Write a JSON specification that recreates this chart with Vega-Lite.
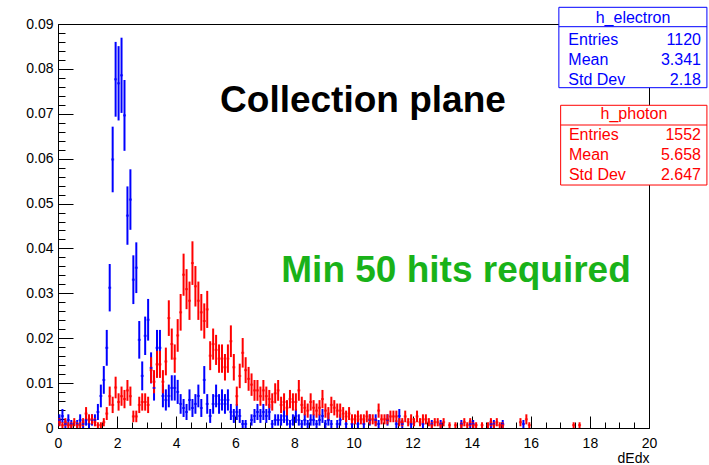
{
  "$schema": "https://vega.github.io/schema/vega-lite/v6.json",
  "width": 591,
  "height": 404,
  "autosize": {"type": "none"},
  "padding": {"left": 58, "top": 24, "right": 60, "bottom": 37},
  "background": "white",
  "config": {"view": {"stroke": "black", "strokeWidth": 1}, "font": "Liberation Sans"},
  "datasets": {
    "h": [
      {"s":"e","x":0.05,"y":0.00179,"err":0.00126},
      {"s":"e","x":0.15,"y":0.00268,"err":0.00155},
      {"s":"e","x":0.25,"y":0.00089,"err":0.00089},
      {"s":"e","x":0.35,"y":0.00179,"err":0.00126},
      {"s":"e","x":0.45,"y":0.00089,"err":0.00089},
      {"s":"e","x":0.65,"y":0.00089,"err":0.00089},
      {"s":"e","x":0.75,"y":0.00179,"err":0.00126},
      {"s":"e","x":0.85,"y":0.00089,"err":0.00089},
      {"s":"e","x":0.95,"y":0.00179,"err":0.00126},
      {"s":"e","x":1.05,"y":0.00089,"err":0.00089},
      {"s":"e","x":1.15,"y":0.00179,"err":0.00126},
      {"s":"e","x":1.25,"y":0.00179,"err":0.00126},
      {"s":"e","x":1.35,"y":0.00357,"err":0.00179},
      {"s":"e","x":1.45,"y":0.00714,"err":0.00253},
      {"s":"e","x":1.55,"y":0.01071,"err":0.00309},
      {"s":"e","x":1.65,"y":0.01786,"err":0.00399},
      {"s":"e","x":1.75,"y":0.03125,"err":0.00528},
      {"s":"e","x":1.85,"y":0.05982,"err":0.00731},
      {"s":"e","x":1.95,"y":0.07768,"err":0.00833},
      {"s":"e","x":2.05,"y":0.07679,"err":0.00828},
      {"s":"e","x":2.15,"y":0.07857,"err":0.00838},
      {"s":"e","x":2.25,"y":0.06964,"err":0.00789},
      {"s":"e","x":2.35,"y":0.04732,"err":0.0065},
      {"s":"e","x":2.45,"y":0.05089,"err":0.00674},
      {"s":"e","x":2.55,"y":0.03304,"err":0.00543},
      {"s":"e","x":2.65,"y":0.03571,"err":0.00565},
      {"s":"e","x":2.75,"y":0.01964,"err":0.00419},
      {"s":"e","x":2.85,"y":0.01161,"err":0.00322},
      {"s":"e","x":2.95,"y":0.02054,"err":0.00428},
      {"s":"e","x":3.05,"y":0.02411,"err":0.00464},
      {"s":"e","x":3.15,"y":0.01339,"err":0.00346},
      {"s":"e","x":3.25,"y":0.00893,"err":0.00282},
      {"s":"e","x":3.35,"y":0.01786,"err":0.00399},
      {"s":"e","x":3.45,"y":0.01786,"err":0.00399},
      {"s":"e","x":3.55,"y":0.00714,"err":0.00253},
      {"s":"e","x":3.65,"y":0.00625,"err":0.00236},
      {"s":"e","x":3.75,"y":0.00714,"err":0.00253},
      {"s":"e","x":3.85,"y":0.00893,"err":0.00282},
      {"s":"e","x":3.95,"y":0.00893,"err":0.00282},
      {"s":"e","x":4.05,"y":0.00804,"err":0.00268},
      {"s":"e","x":4.15,"y":0.00536,"err":0.00219},
      {"s":"e","x":4.25,"y":0.00446,"err":0.002},
      {"s":"e","x":4.35,"y":0.00357,"err":0.00179},
      {"s":"e","x":4.45,"y":0.00625,"err":0.00236},
      {"s":"e","x":4.55,"y":0.00446,"err":0.002},
      {"s":"e","x":4.65,"y":0.00536,"err":0.00219},
      {"s":"e","x":4.75,"y":0.00714,"err":0.00253},
      {"s":"e","x":4.85,"y":0.00446,"err":0.002},
      {"s":"e","x":4.95,"y":0.01071,"err":0.00309},
      {"s":"e","x":5.05,"y":0.00536,"err":0.00219},
      {"s":"e","x":5.15,"y":0.00268,"err":0.00155},
      {"s":"e","x":5.25,"y":0.00536,"err":0.00219},
      {"s":"e","x":5.35,"y":0.00714,"err":0.00253},
      {"s":"e","x":5.45,"y":0.00536,"err":0.00219},
      {"s":"e","x":5.55,"y":0.00625,"err":0.00236},
      {"s":"e","x":5.65,"y":0.00536,"err":0.00219},
      {"s":"e","x":5.75,"y":0.00625,"err":0.00236},
      {"s":"e","x":5.85,"y":0.00357,"err":0.00179},
      {"s":"e","x":5.95,"y":0.00268,"err":0.00155},
      {"s":"e","x":6.05,"y":0.00357,"err":0.00179},
      {"s":"e","x":6.15,"y":0.00268,"err":0.00155},
      {"s":"e","x":6.25,"y":0.00089,"err":0.00089},
      {"s":"e","x":6.35,"y":0.00089,"err":0.00089},
      {"s":"e","x":6.55,"y":0.00179,"err":0.00126},
      {"s":"e","x":6.65,"y":0.00268,"err":0.00155},
      {"s":"e","x":6.75,"y":0.00357,"err":0.00179},
      {"s":"e","x":6.85,"y":0.00268,"err":0.00155},
      {"s":"e","x":6.95,"y":0.00357,"err":0.00179},
      {"s":"e","x":7.05,"y":0.00268,"err":0.00155},
      {"s":"e","x":7.15,"y":0.00357,"err":0.00179},
      {"s":"e","x":7.25,"y":0.00089,"err":0.00089},
      {"s":"e","x":7.35,"y":0.00179,"err":0.00126},
      {"s":"e","x":7.45,"y":0.00179,"err":0.00126},
      {"s":"e","x":7.55,"y":0.00179,"err":0.00126},
      {"s":"e","x":7.65,"y":0.00268,"err":0.00155},
      {"s":"e","x":7.75,"y":0.00179,"err":0.00126},
      {"s":"e","x":7.85,"y":0.00089,"err":0.00089},
      {"s":"e","x":7.95,"y":0.00179,"err":0.00126},
      {"s":"e","x":8.05,"y":0.00268,"err":0.00155},
      {"s":"e","x":8.15,"y":0.00179,"err":0.00126},
      {"s":"e","x":8.25,"y":0.00089,"err":0.00089},
      {"s":"e","x":8.35,"y":0.00179,"err":0.00126},
      {"s":"e","x":8.45,"y":0.00089,"err":0.00089},
      {"s":"e","x":8.55,"y":0.00179,"err":0.00126},
      {"s":"e","x":8.65,"y":0.00179,"err":0.00126},
      {"s":"e","x":8.75,"y":0.00089,"err":0.00089},
      {"s":"e","x":8.85,"y":0.00179,"err":0.00126},
      {"s":"e","x":8.95,"y":0.00268,"err":0.00155},
      {"s":"e","x":9.05,"y":0.00089,"err":0.00089},
      {"s":"e","x":9.15,"y":0.00179,"err":0.00126},
      {"s":"e","x":9.25,"y":0.00089,"err":0.00089},
      {"s":"e","x":9.45,"y":0.00089,"err":0.00089},
      {"s":"e","x":9.55,"y":0.00179,"err":0.00126},
      {"s":"e","x":9.75,"y":0.00089,"err":0.00089},
      {"s":"e","x":9.95,"y":0.00089,"err":0.00089},
      {"s":"e","x":10.15,"y":0.00089,"err":0.00089},
      {"s":"e","x":10.35,"y":0.00089,"err":0.00089},
      {"s":"e","x":10.55,"y":0.00179,"err":0.00126},
      {"s":"e","x":10.75,"y":0.00179,"err":0.00126},
      {"s":"e","x":10.85,"y":0.00089,"err":0.00089},
      {"s":"e","x":11.15,"y":0.00179,"err":0.00126},
      {"s":"e","x":11.45,"y":0.00089,"err":0.00089},
      {"s":"e","x":11.55,"y":0.00268,"err":0.00155},
      {"s":"e","x":11.65,"y":0.00089,"err":0.00089},
      {"s":"e","x":11.95,"y":0.00089,"err":0.00089},
      {"s":"e","x":12.35,"y":0.00089,"err":0.00089},
      {"s":"e","x":12.65,"y":0.00089,"err":0.00089},
      {"s":"e","x":12.95,"y":0.00089,"err":0.00089},
      {"s":"e","x":13.65,"y":0.00089,"err":0.00089},
      {"s":"e","x":13.95,"y":0.00089,"err":0.00089},
      {"s":"e","x":14.05,"y":0.00089,"err":0.00089},
      {"s":"e","x":14.65,"y":0.00089,"err":0.00089},
      {"s":"e","x":14.75,"y":0.00089,"err":0.00089},
      {"s":"e","x":15.05,"y":0.00089,"err":0.00089},
      {"s":"e","x":15.75,"y":0.00089,"err":0.00089},
      {"s":"p","x":0.05,"y":0.00129,"err":0.00091},
      {"s":"p","x":0.15,"y":0.00064,"err":0.00064},
      {"s":"p","x":0.25,"y":0.00129,"err":0.00091},
      {"s":"p","x":0.35,"y":0.00064,"err":0.00064},
      {"s":"p","x":0.45,"y":0.00064,"err":0.00064},
      {"s":"p","x":0.55,"y":0.00129,"err":0.00091},
      {"s":"p","x":0.65,"y":0.00064,"err":0.00064},
      {"s":"p","x":0.75,"y":0.00064,"err":0.00064},
      {"s":"p","x":0.85,"y":0.00129,"err":0.00091},
      {"s":"p","x":0.95,"y":0.00322,"err":0.00144},
      {"s":"p","x":1.05,"y":0.00193,"err":0.00112},
      {"s":"p","x":1.15,"y":0.00193,"err":0.00112},
      {"s":"p","x":1.25,"y":0.00129,"err":0.00091},
      {"s":"p","x":1.35,"y":0.00064,"err":0.00064},
      {"s":"p","x":1.45,"y":0.00064,"err":0.00064},
      {"s":"p","x":1.55,"y":0.00129,"err":0.00091},
      {"s":"p","x":1.65,"y":0.00322,"err":0.00144},
      {"s":"p","x":1.75,"y":0.00709,"err":0.00214},
      {"s":"p","x":1.85,"y":0.00515,"err":0.00182},
      {"s":"p","x":1.95,"y":0.00902,"err":0.00241},
      {"s":"p","x":2.05,"y":0.0058,"err":0.00193},
      {"s":"p","x":2.15,"y":0.00709,"err":0.00214},
      {"s":"p","x":2.25,"y":0.00644,"err":0.00204},
      {"s":"p","x":2.35,"y":0.00838,"err":0.00232},
      {"s":"p","x":2.45,"y":0.00709,"err":0.00214},
      {"s":"p","x":2.55,"y":0.00258,"err":0.00129},
      {"s":"p","x":2.65,"y":0.00258,"err":0.00129},
      {"s":"p","x":2.75,"y":0.00515,"err":0.00182},
      {"s":"p","x":2.85,"y":0.0058,"err":0.00193},
      {"s":"p","x":2.95,"y":0.0058,"err":0.00193},
      {"s":"p","x":3.05,"y":0.00515,"err":0.00182},
      {"s":"p","x":3.15,"y":0.01289,"err":0.00288},
      {"s":"p","x":3.25,"y":0.01031,"err":0.00258},
      {"s":"p","x":3.35,"y":0.01418,"err":0.00302},
      {"s":"p","x":3.45,"y":0.01418,"err":0.00302},
      {"s":"p","x":3.55,"y":0.01031,"err":0.00258},
      {"s":"p","x":3.65,"y":0.01482,"err":0.00309},
      {"s":"p","x":3.75,"y":0.02448,"err":0.00397},
      {"s":"p","x":3.85,"y":0.01869,"err":0.00347},
      {"s":"p","x":3.95,"y":0.01546,"err":0.00316},
      {"s":"p","x":4.05,"y":0.02062,"err":0.00364},
      {"s":"p","x":4.15,"y":0.02577,"err":0.00408},
      {"s":"p","x":4.25,"y":0.03415,"err":0.00469},
      {"s":"p","x":4.35,"y":0.03093,"err":0.00446},
      {"s":"p","x":4.45,"y":0.02835,"err":0.00427},
      {"s":"p","x":4.55,"y":0.03673,"err":0.00486},
      {"s":"p","x":4.65,"y":0.03157,"err":0.00451},
      {"s":"p","x":4.75,"y":0.02835,"err":0.00427},
      {"s":"p","x":4.85,"y":0.02577,"err":0.00408},
      {"s":"p","x":4.95,"y":0.02384,"err":0.00392},
      {"s":"p","x":5.05,"y":0.02642,"err":0.00413},
      {"s":"p","x":5.15,"y":0.01611,"err":0.00322},
      {"s":"p","x":5.25,"y":0.01869,"err":0.00347},
      {"s":"p","x":5.35,"y":0.0174,"err":0.00335},
      {"s":"p","x":5.45,"y":0.01546,"err":0.00316},
      {"s":"p","x":5.55,"y":0.01546,"err":0.00316},
      {"s":"p","x":5.65,"y":0.01353,"err":0.00295},
      {"s":"p","x":5.75,"y":0.01546,"err":0.00316},
      {"s":"p","x":5.85,"y":0.01933,"err":0.00353},
      {"s":"p","x":5.95,"y":0.01353,"err":0.00295},
      {"s":"p","x":6.05,"y":0.00709,"err":0.00214},
      {"s":"p","x":6.15,"y":0.0116,"err":0.00273},
      {"s":"p","x":6.25,"y":0.01675,"err":0.00329},
      {"s":"p","x":6.35,"y":0.01289,"err":0.00288},
      {"s":"p","x":6.45,"y":0.01095,"err":0.00266},
      {"s":"p","x":6.55,"y":0.00966,"err":0.0025},
      {"s":"p","x":6.65,"y":0.00838,"err":0.00232},
      {"s":"p","x":6.75,"y":0.00838,"err":0.00232},
      {"s":"p","x":6.85,"y":0.00709,"err":0.00214},
      {"s":"p","x":6.95,"y":0.00838,"err":0.00232},
      {"s":"p","x":7.05,"y":0.00709,"err":0.00214},
      {"s":"p","x":7.15,"y":0.00644,"err":0.00204},
      {"s":"p","x":7.25,"y":0.0058,"err":0.00193},
      {"s":"p","x":7.35,"y":0.00773,"err":0.00223},
      {"s":"p","x":7.45,"y":0.00838,"err":0.00232},
      {"s":"p","x":7.55,"y":0.00515,"err":0.00182},
      {"s":"p","x":7.65,"y":0.0058,"err":0.00193},
      {"s":"p","x":7.75,"y":0.00451,"err":0.0017},
      {"s":"p","x":7.85,"y":0.00644,"err":0.00204},
      {"s":"p","x":7.95,"y":0.0058,"err":0.00193},
      {"s":"p","x":8.05,"y":0.0058,"err":0.00193},
      {"s":"p","x":8.15,"y":0.00838,"err":0.00232},
      {"s":"p","x":8.25,"y":0.00515,"err":0.00182},
      {"s":"p","x":8.35,"y":0.00451,"err":0.0017},
      {"s":"p","x":8.45,"y":0.00387,"err":0.00158},
      {"s":"p","x":8.55,"y":0.0058,"err":0.00193},
      {"s":"p","x":8.65,"y":0.00451,"err":0.0017},
      {"s":"p","x":8.75,"y":0.00387,"err":0.00158},
      {"s":"p","x":8.85,"y":0.00451,"err":0.0017},
      {"s":"p","x":8.95,"y":0.00644,"err":0.00204},
      {"s":"p","x":9.05,"y":0.00387,"err":0.00158},
      {"s":"p","x":9.15,"y":0.00322,"err":0.00144},
      {"s":"p","x":9.25,"y":0.00515,"err":0.00182},
      {"s":"p","x":9.35,"y":0.00451,"err":0.0017},
      {"s":"p","x":9.45,"y":0.00387,"err":0.00158},
      {"s":"p","x":9.55,"y":0.00387,"err":0.00158},
      {"s":"p","x":9.65,"y":0.00322,"err":0.00144},
      {"s":"p","x":9.75,"y":0.00258,"err":0.00129},
      {"s":"p","x":9.85,"y":0.00322,"err":0.00144},
      {"s":"p","x":9.95,"y":0.00193,"err":0.00112},
      {"s":"p","x":10.05,"y":0.00193,"err":0.00112},
      {"s":"p","x":10.15,"y":0.00258,"err":0.00129},
      {"s":"p","x":10.25,"y":0.00193,"err":0.00112},
      {"s":"p","x":10.35,"y":0.00193,"err":0.00112},
      {"s":"p","x":10.45,"y":0.00258,"err":0.00129},
      {"s":"p","x":10.55,"y":0.00193,"err":0.00112},
      {"s":"p","x":10.65,"y":0.00193,"err":0.00112},
      {"s":"p","x":10.75,"y":0.00129,"err":0.00091},
      {"s":"p","x":10.85,"y":0.00387,"err":0.00158},
      {"s":"p","x":10.95,"y":0.00193,"err":0.00112},
      {"s":"p","x":11.05,"y":0.00193,"err":0.00112},
      {"s":"p","x":11.15,"y":0.00193,"err":0.00112},
      {"s":"p","x":11.25,"y":0.00258,"err":0.00129},
      {"s":"p","x":11.35,"y":0.00258,"err":0.00129},
      {"s":"p","x":11.45,"y":0.00258,"err":0.00129},
      {"s":"p","x":11.55,"y":0.00129,"err":0.00091},
      {"s":"p","x":11.65,"y":0.00129,"err":0.00091},
      {"s":"p","x":11.75,"y":0.00258,"err":0.00129},
      {"s":"p","x":11.85,"y":0.00129,"err":0.00091},
      {"s":"p","x":11.95,"y":0.00193,"err":0.00112},
      {"s":"p","x":12.05,"y":0.00129,"err":0.00091},
      {"s":"p","x":12.15,"y":0.00258,"err":0.00129},
      {"s":"p","x":12.25,"y":0.00129,"err":0.00091},
      {"s":"p","x":12.35,"y":0.00193,"err":0.00112},
      {"s":"p","x":12.45,"y":0.00193,"err":0.00112},
      {"s":"p","x":12.55,"y":0.00129,"err":0.00091},
      {"s":"p","x":12.65,"y":0.00064,"err":0.00064},
      {"s":"p","x":12.75,"y":0.00129,"err":0.00091},
      {"s":"p","x":12.85,"y":0.00129,"err":0.00091},
      {"s":"p","x":12.95,"y":0.00064,"err":0.00064},
      {"s":"p","x":13.05,"y":0.00129,"err":0.00091},
      {"s":"p","x":13.25,"y":0.00064,"err":0.00064},
      {"s":"p","x":13.45,"y":0.00064,"err":0.00064},
      {"s":"p","x":13.65,"y":0.00064,"err":0.00064},
      {"s":"p","x":13.75,"y":0.00129,"err":0.00091},
      {"s":"p","x":13.85,"y":0.00064,"err":0.00064},
      {"s":"p","x":13.95,"y":0.00129,"err":0.00091},
      {"s":"p","x":14.05,"y":0.00064,"err":0.00064},
      {"s":"p","x":14.15,"y":0.00064,"err":0.00064},
      {"s":"p","x":14.35,"y":0.00064,"err":0.00064},
      {"s":"p","x":14.55,"y":0.00064,"err":0.00064},
      {"s":"p","x":14.65,"y":0.00129,"err":0.00091},
      {"s":"p","x":14.75,"y":0.00064,"err":0.00064},
      {"s":"p","x":14.85,"y":0.00129,"err":0.00091},
      {"s":"p","x":14.95,"y":0.00064,"err":0.00064},
      {"s":"p","x":15.05,"y":0.00064,"err":0.00064},
      {"s":"p","x":15.65,"y":0.00129,"err":0.00091},
      {"s":"p","x":15.85,"y":0.00193,"err":0.00112},
      {"s":"p","x":15.95,"y":0.00064,"err":0.00064},
      {"s":"p","x":17.45,"y":0.00064,"err":0.00064},
      {"s":"p","x":17.65,"y":0.00064,"err":0.00064}
    ]
  },
  "layer": [
    {
      "data": {"name": "h"},
      "mark": {"type": "errorbar", "thickness": 2},
      "encoding": {
        "x": {
          "field": "x", "type": "quantitative",
          "scale": {"domain": [0, 20], "nice": false, "zero": false},
          "axis": {
            "title": "dEdx",
            "values": [0,0.5,1,1.5,2,2.5,3,3.5,4,4.5,5,5.5,6,6.5,7,7.5,8,8.5,9,9.5,10,10.5,11,11.5,12,12.5,13,13.5,14,14.5,15,15.5,16,16.5,17,17.5,18,18.5,19,19.5,20],
            "tickCount": 200,
            "labelExpr": "datum.value % 2 == 0 ? format(datum.value, 'd') : ''",
            "tickSize": {"condition": {"test": "datum.value % 2 == 0", "value": -12}, "value": -6},
            "labelPadding": 20,
            "labelOverlap": false,
            "labelFlush": false,
            "grid": false,
            "domainColor": "black",
            "tickColor": "black",
            "labelColor": "black",
            "labelFont": "Liberation Sans",
            "labelFontSize": 14,
            "titleFont": "Liberation Sans",
            "titleFontSize": 14,
            "titleFontWeight": "normal",
            "titleColor": "black",
            "titleAnchor": "end",
            "titlePadding": -5
          }
        },
        "y": {
          "field": "y", "type": "quantitative",
          "scale": {"domain": [0, 0.09], "nice": false},
          "axis": {
            "title": null,
            "values": [0,0.002,0.004,0.006,0.008,0.01,0.012,0.014,0.016,0.018,0.02,0.022,0.024,0.026,0.028,0.03,0.032,0.034,0.036,0.038,0.04,0.042,0.044,0.046,0.048,0.05,0.052,0.054,0.056,0.058,0.06,0.062,0.064,0.066,0.068,0.07,0.072,0.074,0.076,0.078,0.08,0.082,0.084,0.086,0.088,0.09],
            "tickCount": 200,
            "labelExpr": "abs(datum.value*100 - round(datum.value*100)) < 0.01 ? (datum.value == 0 ? '0' : format(datum.value, '.2f')) : ''",
            "tickSize": {"condition": {"test": "abs(datum.value*100 - round(datum.value*100)) < 0.01", "value": -15}, "value": -7},
            "labelPadding": 20,
            "labelOverlap": false,
            "labelFlush": false,
            "grid": false,
            "domainColor": "black",
            "tickColor": "black",
            "labelColor": "black",
            "labelFont": "Liberation Sans",
            "labelFontSize": 14
          }
        },
        "yError": {"field": "err"},
        "color": {"field": "s", "type": "nominal", "scale": {"domain": ["e", "p"], "range": ["#0000ff", "#ff0000"]}, "legend": null}
      }
    },
    {
      "data": {"name": "h"},
      "mark": {"type": "tick", "orient": "horizontal", "size": 3, "thickness": 2},
      "encoding": {
        "x": {"field": "x", "type": "quantitative", "title": "dEdx"},
        "y": {"field": "y", "type": "quantitative", "title": null},
        "color": {"field": "s", "type": "nominal", "scale": {"domain": ["e", "p"], "range": ["#0000ff", "#ff0000"]}, "legend": null}
      }
    },
    {
      "data": {"values": [{}]},
      "mark": {"type": "text", "text": "Collection plane", "font": "Liberation Sans", "fontWeight": "bold", "fontSize": 37, "align": "center", "baseline": "alphabetic", "color": "black"},
      "encoding": {"x": {"datum": 10.32, "type": "quantitative"}, "y": {"datum": 0.0704, "type": "quantitative"}}
    },
    {
      "data": {"values": [{}]},
      "mark": {"type": "text", "text": "Min 50 hits required", "font": "Liberation Sans", "fontWeight": "bold", "fontSize": 37, "align": "center", "baseline": "alphabetic", "color": "#19b219"},
      "encoding": {"x": {"datum": 13.47, "type": "quantitative"}, "y": {"datum": 0.03252, "type": "quantitative"}}
    },
    {
      "data": {"values": [{}]},
      "mark": {"type": "rect", "fill": "white", "stroke": "#0000ff", "strokeWidth": 1},
      "encoding": {"x": {"datum": 16.95, "type": "quantitative"}, "x2": {"datum": 21.96}, "y": {"datum": 0.09372, "type": "quantitative"}, "y2": {"datum": 0.07581}}
    },
    {
      "data": {"values": [{}]},
      "mark": {"type": "rule", "stroke": "#0000ff", "strokeWidth": 1},
      "encoding": {"x": {"datum": 16.95, "type": "quantitative"}, "x2": {"datum": 21.96}, "y": {"datum": 0.0894, "type": "quantitative"}}
    },
    {
      "data": {"values": [{}]},
      "mark": {"type": "text", "text": "h_electron", "font": "Liberation Sans", "fontSize": 16, "align": "center", "baseline": "alphabetic", "color": "#0000ff"},
      "encoding": {"x": {"datum": 19.46, "type": "quantitative"}, "y": {"datum": 0.09022, "type": "quantitative"}}
    },
    {
      "data": {"values": [{}]},
      "mark": {"type": "text", "text": ["Entries", "Mean", "Std Dev"], "lineHeight": 20, "font": "Liberation Sans", "fontSize": 16, "align": "left", "baseline": "alphabetic", "color": "#0000ff"},
      "encoding": {"x": {"datum": 17.27, "type": "quantitative"}, "y": {"datum": 0.08532, "type": "quantitative"}}
    },
    {
      "data": {"values": [{}]},
      "mark": {"type": "text", "text": ["1120", "3.341", "2.18"], "lineHeight": 20, "font": "Liberation Sans", "fontSize": 16, "align": "right", "baseline": "alphabetic", "color": "#0000ff"},
      "encoding": {"x": {"datum": 21.76, "type": "quantitative"}, "y": {"datum": 0.08532, "type": "quantitative"}}
    },
    {
      "data": {"values": [{}]},
      "mark": {"type": "rect", "fill": "white", "stroke": "#ff0000", "strokeWidth": 1},
      "encoding": {"x": {"datum": 17.01, "type": "quantitative"}, "x2": {"datum": 21.96}, "y": {"datum": 0.07189, "type": "quantitative"}, "y2": {"datum": 0.05413}}
    },
    {
      "data": {"values": [{}]},
      "mark": {"type": "rule", "stroke": "#ff0000", "strokeWidth": 1},
      "encoding": {"x": {"datum": 17.01, "type": "quantitative"}, "x2": {"datum": 21.96}, "y": {"datum": 0.0675, "type": "quantitative"}}
    },
    {
      "data": {"values": [{}]},
      "mark": {"type": "text", "text": "h_photon", "font": "Liberation Sans", "fontSize": 16, "align": "center", "baseline": "alphabetic", "color": "#ff0000"},
      "encoding": {"x": {"datum": 19.49, "type": "quantitative"}, "y": {"datum": 0.06877, "type": "quantitative"}}
    },
    {
      "data": {"values": [{}]},
      "mark": {"type": "text", "text": ["Entries", "Mean", "Std Dev"], "lineHeight": 20, "font": "Liberation Sans", "fontSize": 16, "align": "left", "baseline": "alphabetic", "color": "#ff0000"},
      "encoding": {"x": {"datum": 17.29, "type": "quantitative"}, "y": {"datum": 0.06416, "type": "quantitative"}}
    },
    {
      "data": {"values": [{}]},
      "mark": {"type": "text", "text": ["1552", "5.658", "2.647"], "lineHeight": 20, "font": "Liberation Sans", "fontSize": 16, "align": "right", "baseline": "alphabetic", "color": "#ff0000"},
      "encoding": {"x": {"datum": 21.76, "type": "quantitative"}, "y": {"datum": 0.06416, "type": "quantitative"}}
    }
  ]
}
